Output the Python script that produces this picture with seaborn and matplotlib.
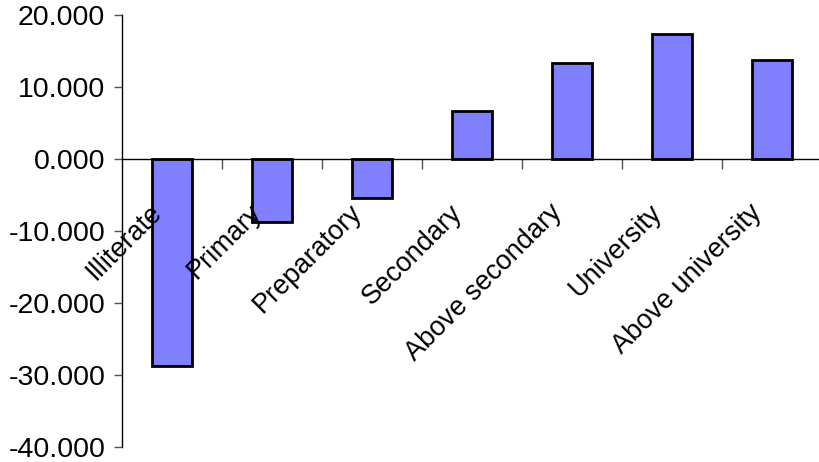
import matplotlib
matplotlib.use('Agg')
import matplotlib.pyplot as plt
import matplotlib.ticker as mticker
import seaborn as sns

categories = ['Illiterate', 'Primary', 'Preparatory', 'Secondary',
              'Above secondary', 'University', 'Above university']
values = [-28.8, -8.8, -5.4, 6.7, 13.3, 17.4, 13.8]

sns.set_style('white')
plt.rcParams['font.family'] = ['Liberation Sans', 'DejaVu Sans']
plt.rcParams['text.color'] = 'black'
plt.rcParams['ytick.color'] = 'black'

fig = plt.figure(figsize=(8.2, 4.62), dpi=100)
ax = fig.add_axes([122 / 820, 15 / 462, 700 / 820, 432 / 462])

sns.barplot(x=categories, y=values, color='#8080FF', saturation=1,
            edgecolor='black', linewidth=2, width=0.4, ax=ax)

ax.set_xlim(-0.5, len(categories) - 0.5)
ax.set_ylim(-40, 20)
ax.set_yticks(range(-40, 21, 10))
ax.yaxis.set_major_formatter(mticker.FuncFormatter(lambda v, p: f'{v:.3f}'))
ax.tick_params(axis='y', labelsize=20.5, length=6, width=1, color='#555555',
               labelcolor='black', direction='out', left=True, pad=6)

# zero line acts as category axis
for s in ['top', 'right']:
    ax.spines[s].set_visible(False)
ax.spines['left'].set_color('black')
ax.spines['left'].set_linewidth(1)
ax.spines['bottom'].set_position(('data', 0))
ax.spines['bottom'].set_color('black')
ax.spines['bottom'].set_linewidth(1)

ax.set_xticks([i + 0.5 for i in range(len(categories) - 1)])
ax.set_xticklabels([])
ax.tick_params(axis='x', length=7, width=1, color='#555555', direction='out', bottom=True)
ax.set_xlabel('')
ax.set_ylabel('')

for i, lab in enumerate(categories):
    ax.text(i - 0.14, -6.9, lab, rotation=45, ha='right', va='center',
            rotation_mode='anchor', fontsize=19.5, color='black')

fig.savefig('out.png', dpi=100)
